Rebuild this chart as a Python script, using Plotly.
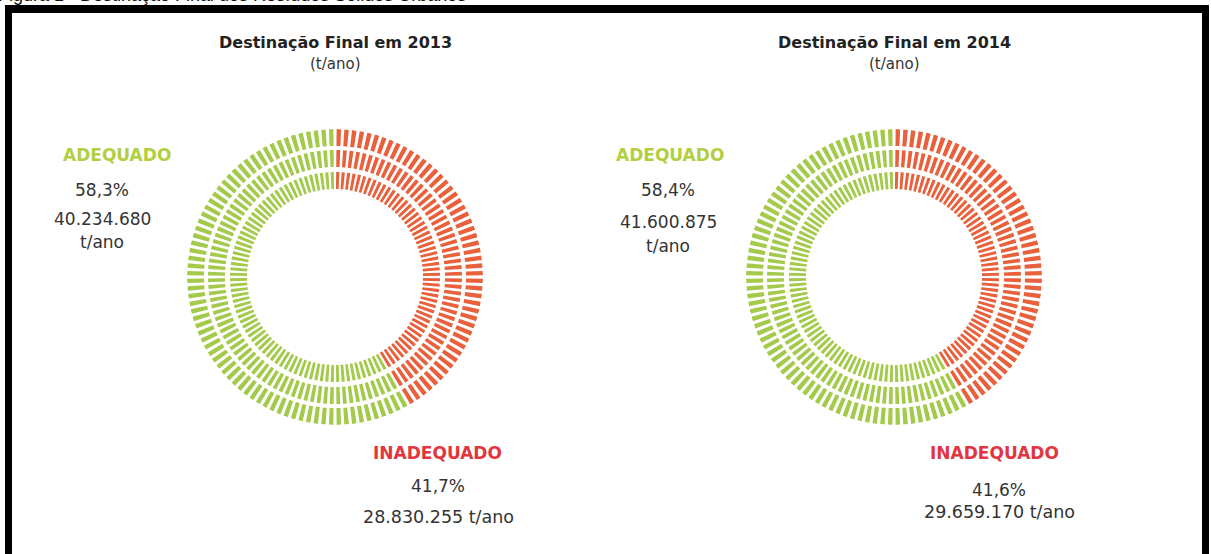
import plotly.graph_objects as go

# ---- data ----
years = ["2013", "2014"]
adequado_pct = [58.3, 58.4]
inadequado_pct = [41.7, 41.6]
adequado_pct_txt = ["58,3%", "58,4%"]
inadequado_pct_txt = ["41,7%", "41,6%"]
adequado_t = ["40.234.680", "41.600.875"]
inadequado_t = ["28.830.255", "29.659.170"]
figure_caption = "Figura 1 - Destinação Final dos Resíduos Sólidos Urbanos"

# ---- style ----
W, H = 1211, 554
GREEN = "#a4ca4b"
RED = "#e8613c"
GREEN_LBL = "#b2cf42"
RED_LBL = "#e2353e"
TXT = "#333333"
FONT = "DejaVu Sans"
N_DASH = 120
RINGS = [(88, 17), (110, 17), (131, 17)]  # (inner radius, thickness) in px units
R_MAX = 148
centers = [(335, 277), (894, 277)]


def px(x):
    return x / W


def py(y):
    return 1 - y / H


fig = go.Figure()
step = 360 / N_DASH
for k, yr in enumerate(years):
    limit = inadequado_pct[k] / 100 * 360
    thetas, rs, bases, cols = [], [], [], []
    for base, th in RINGS:
        for i in range(N_DASH):
            t = (i + 0.5) * step
            thetas.append(t)
            rs.append(th)
            bases.append(base)
            cols.append(RED if t < limit else GREEN)
    fig.add_trace(go.Barpolar(
        theta=thetas, r=rs, base=bases, width=step * 0.58,
        marker=dict(color=cols, line=dict(width=0)),
        subplot="polar" if k == 0 else "polar2",
        hoverinfo="skip", showlegend=False,
    ))
    cx, cy = centers[k]
    dom = dict(x=[px(cx - R_MAX), px(cx + R_MAX)], y=[py(cy + R_MAX), py(cy - R_MAX)])
    polar = dict(
        domain=dom, bgcolor="white",
        radialaxis=dict(range=[0, R_MAX], visible=False),
        angularaxis=dict(rotation=90, direction="clockwise", visible=False),
        bargap=0,
    )
    fig.update_layout(**{("polar" if k == 0 else "polar2"): polar})

ann = []


def add_text(x, y, text, size, color=TXT, bold=False, anchor="center"):
    t = f"<b>{text}</b>" if bold else text
    ann.append(dict(x=px(x), y=py(y), xref="paper", yref="paper", text=t, showarrow=False,
                    xanchor=anchor, yanchor="middle",
                    font=dict(family=FONT, size=size, color=color)))


title_x = [335, 894]
ad_x = [117, 670]
ad_num_x = [102, 668]
in_x = [437, 995]
in_num_x = [438, 999]
for k, yr in enumerate(years):
    add_text(title_x[k], 43, f"Destinação Final em {yr}", 16, "#222222", bold=True)
    add_text(title_x[k], 64, "(t/ano)", 15)
    add_text(ad_x[k], 155, "ADEQUADO", 17, GREEN_LBL, bold=True)
    add_text(ad_num_x[k], 190, adequado_pct_txt[k], 17)
    add_text(ad_num_x[k], 219 if k == 0 else 222, adequado_t[k], 17)
    add_text(ad_num_x[k], 242 if k == 0 else 246, "t/ano", 17)
    add_text(in_x[k], 453, "INADEQUADO", 17, RED_LBL, bold=True)
    add_text(in_num_x[k], 486 if k == 0 else 490, inadequado_pct_txt[k], 17)
    add_text(in_num_x[k], 517 if k == 0 else 512, f"{inadequado_t[k]} t/ano", 17.5)

# partially visible caption at the very top (cut off in the source image as well)
ann.append(dict(x=0, y=1, xref="paper", yref="paper", text=figure_caption, showarrow=False,
                xanchor="left", yanchor="bottom", yshift=-7, xshift=-4,
                font=dict(family="Liberation Sans", size=18, color="#111111")))

shapes = [
    dict(type="rect", xref="paper", yref="paper", x0=px(5), x1=px(12), y0=0, y1=py(5),
         fillcolor="black", line=dict(width=0)),
    dict(type="rect", xref="paper", yref="paper", x0=px(5), x1=px(1209), y0=py(13), y1=py(5),
         fillcolor="black", line=dict(width=0)),
    dict(type="rect", xref="paper", yref="paper", x0=px(1202), x1=px(1209), y0=0, y1=py(5),
         fillcolor="black", line=dict(width=0)),
]

fig.update_layout(
    width=W, height=H, margin=dict(l=0, r=0, t=0, b=0),
    paper_bgcolor="white", plot_bgcolor="white",
    annotations=ann, shapes=shapes, showlegend=False,
)
fig.write_html("out.html", config={"displayModeBar": False},
               post_script="document.body.style.margin='0';document.body.style.overflow='hidden';")
